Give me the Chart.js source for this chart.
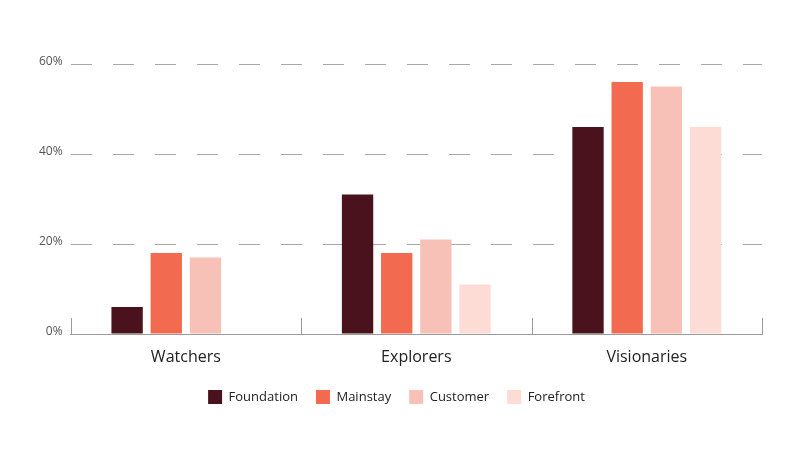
<!DOCTYPE html>
<html>
<head>
<meta charset="utf-8">
<script src="https://cdn.jsdelivr.net/npm/chart.js@4/dist/chart.umd.min.js"></script>
<style>
  html, body { margin: 0; padding: 0; background: #fff; }
  #wrap { width: 800px; height: 458px; position: relative; }
</style>
</head>
<body>
<div id="wrap"><canvas id="chart"></canvas></div>
<script>
const categories = ["Watchers", "Explorers", "Visionaries"];
const foundation = [6, 31, 46];
const mainstay = [18, 18, 56];
const customer = [17, 21, 55];
const forefront = [0, 11, 46];
const yTicks = [0, 20, 40, 60];

// short upward ticks at category boundaries on the x axis
const boundaryTicks = {
  id: "boundaryTicks",
  afterDatasetsDraw: function(chart) {
    let x = chart.scales.x;
    let ctx = chart.ctx;
    let n = categories.length;
    let step = (x.right - x.left) / n;
    ctx.save();
    ctx.strokeStyle = "#9a9a9a";
    ctx.lineWidth = 1;
    for (let i = 0; i <= n; i++) {
      let px = Math.round(x.left + i * step) + 0.5;
      ctx.beginPath();
      ctx.moveTo(px, x.top - 16);
      ctx.lineTo(px, x.top);
      ctx.stroke();
    }
    ctx.restore();
  }
};

new Chart(document.getElementById("chart"), {
  type: "bar",
  data: {
    labels: categories,
    datasets: [
      { label: "Foundation", data: foundation, backgroundColor: "#4a121d" },
      { label: "Mainstay", data: mainstay, backgroundColor: "#f26a50" },
      { label: "Customer", data: customer, backgroundColor: "#f8c1b8" },
      { label: "Forefront", data: forefront, backgroundColor: "#fcdcd5" }
    ]
  },
  options: {
    responsive: true,
    maintainAspectRatio: false,
    animation: false,
    categoryPercentage: 0.68,
    barPercentage: 0.8,
    layout: { padding: { left: 31, right: 38, top: 64, bottom: 44 } },
    plugins: {
      legend: {
        position: "bottom",
        labels: {
          boxWidth: 14,
          boxHeight: 14,
          padding: 18,
          color: "#222",
          font: { family: "Open Sans", size: 13 }
        }
      },
      tooltip: { enabled: false }
    },
    scales: {
      x: {
        grid: { display: false },
        border: { display: true, color: "#9a9a9a", width: 1 },
        afterFit: function(axis) { axis.height = 38; },
        ticks: {
          color: "#222",
          padding: 6,
          font: { family: "Open Sans", size: 16 }
        }
      },
      y: {
        min: 0,
        max: 60,
        afterBuildTicks: function(axis) {
          axis.ticks = yTicks.map(v => ({ value: v }));
        },
        grid: {
          color: function(c) { return c.tick.value === 0 ? "rgba(0,0,0,0)" : "#a8a8a8"; },
          drawTicks: false,
          lineWidth: 1
        },
        border: { display: false, dash: [21, 21] },
        ticks: {
          color: "#555",
          padding: 8,
          labelOffset: -2,
          font: { family: "Open Sans", size: 12 },
          callback: v => v + "%"
        }
      }
    }
  },
  plugins: [boundaryTicks]
});
</script>
</body>
</html>
